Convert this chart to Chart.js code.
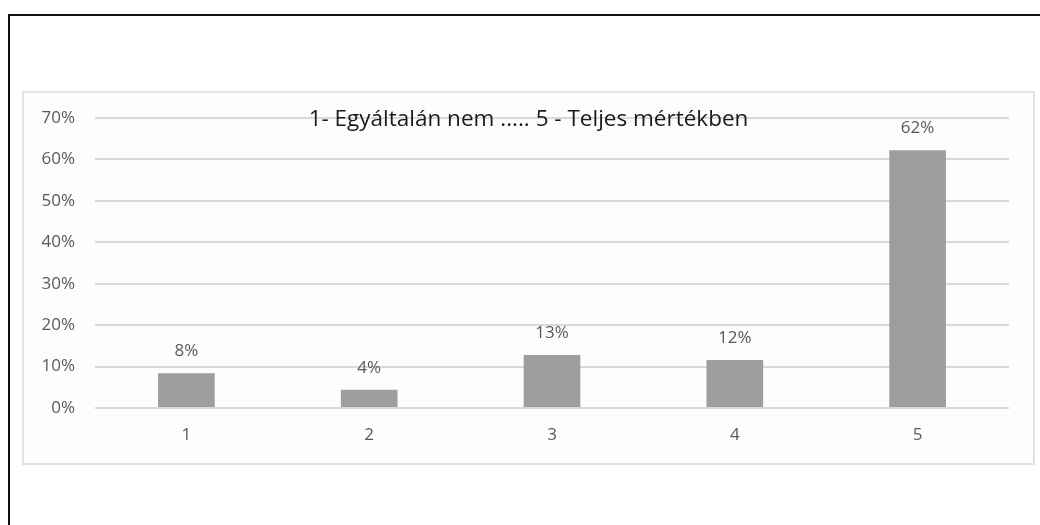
<!DOCTYPE html>
<html>
<head>
<meta charset="utf-8">
<script src="https://cdn.jsdelivr.net/npm/chart.js@4/dist/chart.umd.min.js"></script>
<style>
  html, body { margin: 0; padding: 0; background: #fff; }
  body { width: 1040px; height: 525px; position: relative; overflow: hidden; }
  #frame { position: absolute; left: 8px; top: 14px; width: 1040px; height: 520px;
           border-top: 2px solid #111; border-left: 2px solid #111; }
  #box { position: absolute; left: 22px; top: 91px; width: 1009px; height: 370px;
         border: 2px solid #e2e2e2; background: #fdfdfd; }
  canvas { display: block; }
</style>
</head>
<body>
<div id="frame"></div>
<div id="box"><canvas id="chart" width="1009" height="370"></canvas></div>
<script>
const categories = ['1', '2', '3', '4', '5'];
const shares = [8.4, 4.4, 12.8, 11.6, 62.2];
const yTicks = [0, 10, 20, 30, 40, 50, 60, 70];
const chartTitle = '1- Egyáltalán nem ..... 5 - Teljes mértékben';

const FONT = "'Open Sans', 'Noto Sans', sans-serif";

// value labels above the bars + title inside the plot
const barLabels = {
  id: 'barLabels',
  afterDatasetsDraw(chart) {
    const ctx = chart.ctx;
    const meta = chart.getDatasetMeta(0);
    ctx.save();
    ctx.fillStyle = '#595959';
    ctx.font = '17px ' + FONT;
    ctx.textAlign = 'center';
    ctx.textBaseline = 'middle';
    meta.data.forEach((bar, i) => {
      ctx.fillText(Math.round(shares[i]) + '%', bar.x, bar.y - 22);
    });
    ctx.fillStyle = '#1a1a1a';
    ctx.font = '22.5px ' + FONT;
    ctx.fillText(chartTitle, chart.width / 2, 27);
    ctx.restore();
  }
};

new Chart(document.getElementById('chart').getContext('2d'), {
  type: 'bar',
  data: {
    labels: categories,
    datasets: [{
      data: shares,
      backgroundColor: '#9e9e9e',
      barPercentage: 0.31,
      categoryPercentage: 1
    }]
  },
  options: {
    responsive: false,
    animation: false,
    layout: { padding: { left: 0, top: 25, right: 24, bottom: 0 } },
    plugins: { legend: { display: false }, tooltip: { enabled: false } },
    scales: {
      x: {
        grid: { display: false, drawTicks: false },
        border: { display: false },
        ticks: { color: '#595959', font: { family: FONT, size: 17 }, padding: 17 },
        afterFit(axis) { axis.height = 55; axis.paddingLeft = 0; axis.paddingRight = 0; }
      },
      y: {
        min: 0,
        max: 70,
        afterBuildTicks(axis) { axis.ticks = yTicks.map(v => ({ value: v })); },
        grid: { color: '#d9d9d9', lineWidth: 2, drawTicks: false },
        border: { display: false },
        ticks: {
          color: '#595959',
          font: { family: FONT, size: 17 },
          padding: 20,
          callback: v => v + '%'
        },
        afterFit(axis) { axis.width = 71; axis.paddingTop = 0; axis.paddingBottom = 0; }
      }
    }
  },
  plugins: [barLabels]
});
</script>
</body>
</html>
